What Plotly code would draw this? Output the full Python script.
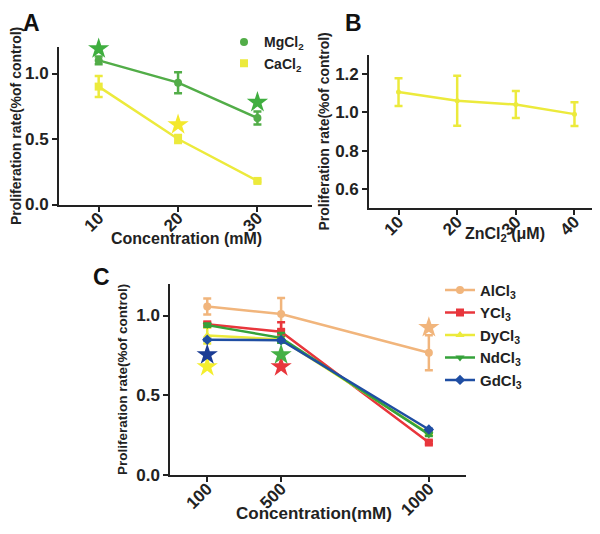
import plotly.graph_objects as go

# ---- panel A data ----
conc_a = [10, 20, 30]
mg_mean = [1.10, 0.93, 0.66]
mg_err = [0.03, 0.08, 0.05]
ca_mean = [0.90, 0.50, 0.18]
ca_err = [0.08, 0.03, 0.01]
mg_star_x = [10, 30]
mg_star_y = [1.19, 0.78]
ca_star_x = [20]
ca_star_y = [0.61]

# ---- panel B data ----
conc_b = [10, 20, 30, 40]
zn_mean = [1.105, 1.06, 1.04, 0.99]
zn_err = [0.072, 0.13, 0.07, 0.062]

# ---- panel C data ----
conc_c_pos = [1, 2, 4]
conc_c_labels = ["100", "500", "1000"]
al_mean = [1.057, 1.01, 0.767]
al_err = [0.05, 0.10, 0.11]
y_mean = [0.945, 0.898, 0.204]
y_err = [0.01, 0.06, 0.01]
dy_mean = [0.875, 0.85, 0.26]
dy_err = [0.05, 0.01, 0.01]
nd_mean = [0.94, 0.86, 0.255]
nd_err = [0.01, 0.03, 0.01]
gd_mean = [0.848, 0.845, 0.286]
gd_err = [0.005, 0.005, 0.005]
star_c = {
    "al": ([4], [0.925]),
    "y": ([2], [0.68]),
    "dy": ([1], [0.68]),
    "nd": ([2], [0.755]),
    "gd": ([1], [0.755]),
}

GREEN = "#52ad48"
YELLOW = "#ecea3c"
TAN = "#f1b57c"
RED = "#e8363c"
DGREEN = "#35a23a"
BLUE = "#1f4ea3"
FONT = "Liberation Sans, Arial, sans-serif"

fig = go.Figure()


def series(x, y, err, color, symbol, name, xa, ya, legend=None, msize=8):
    fig.add_trace(go.Scatter(
        x=x, y=y, mode="lines+markers", name=name, cliponaxis=False,
        line=dict(color=color, width=2.5),
        marker=dict(color=color, symbol=symbol, size=msize),
        error_y=dict(type="data", array=err, color=color, thickness=2.5, width=4),
        xaxis=xa, yaxis=ya, showlegend=legend is not None,
        legend=legend or "legend",
    ))


def stars(x, y, color, xa, ya):
    fig.add_trace(go.Scatter(
        x=x, y=y, mode="markers", showlegend=False, cliponaxis=False,
        marker=dict(color=color, symbol="star", size=16, line=dict(width=0)),
        xaxis=xa, yaxis=ya,
    ))


def key_only(color, symbol, name):
    # legend entry with marker only (graphpad style)
    fig.add_trace(go.Scatter(
        x=[None], y=[None], mode="markers", name=name,
        marker=dict(color=color, symbol=symbol, size=8), legend="legend",
    ))


# A
series(conc_a, mg_mean, mg_err, GREEN, "circle", "MgCl<sub>2</sub>", "x", "y")
series(conc_a, ca_mean, ca_err, YELLOW, "square", "CaCl<sub>2</sub>", "x", "y")
stars(mg_star_x, mg_star_y, "#3fae3f", "x", "y")
stars(ca_star_x, ca_star_y, "#f4e82c", "x", "y")
key_only(GREEN, "circle", "MgCl<sub>2</sub>")
key_only(YELLOW, "square", "CaCl<sub>2</sub>")

# B
series(conc_b, zn_mean, zn_err, YELLOW, "circle", "ZnCl2", "x2", "y2", msize=5)

# C
series(conc_c_pos, al_mean, al_err, TAN, "circle", "AlCl<sub>3</sub>", "x3", "y3", "legend2")
series(conc_c_pos, y_mean, y_err, RED, "square", "YCl<sub>3</sub>", "x3", "y3", "legend2")
series(conc_c_pos, dy_mean, dy_err, YELLOW, "triangle-up", "DyCl<sub>3</sub>", "x3", "y3", "legend2")
series(conc_c_pos, nd_mean, nd_err, DGREEN, "triangle-down", "NdCl<sub>3</sub>", "x3", "y3", "legend2")
series(conc_c_pos, gd_mean, gd_err, BLUE, "diamond", "GdCl<sub>3</sub>", "x3", "y3", "legend2")
stars(*star_c["al"], TAN, "x3", "y3")
stars(*star_c["y"], RED, "x3", "y3")
stars(*star_c["dy"], "#f4ee2c", "x3", "y3")
stars(*star_c["nd"], "#45b045", "x3", "y3")
stars(*star_c["gd"], "#1b3c94", "x3", "y3")

tickf = dict(family=FONT, size=17, color="#222", weight="bold")
titlef = dict(family=FONT, size=14, color="#222", weight="bold")
ax = dict(showline=True, linecolor="#222", linewidth=2, showgrid=False, zeroline=False,
          ticks="outside", ticklen=5, tickwidth=2, tickcolor="#222", tickfont=tickf)
xax = dict(ax, tickangle=-45, ticklabelstandoff=-10)

fig.update_layout(
    width=600, height=534, margin=dict(l=0, r=0, t=0, b=0),
    paper_bgcolor="white", plot_bgcolor="white",
    font=dict(family=FONT, color="#222"),
    xaxis=dict(xax, domain=[0.085, 0.507], range=[5, 36.9], tickvals=conc_a, anchor="y"),
    yaxis=dict(ax, domain=[0.625, 0.925], range=[0, 1.2], tickvals=[0, 0.5, 1.0],
               tickformat=".1f", anchor="x",
               title=dict(text="Proliferation rate(%of control)", font=titlef, standoff=6)),
    xaxis2=dict(xax, domain=[0.602, 0.993], range=[5, 45], tickvals=conc_b, anchor="y2"),
    yaxis2=dict(ax, domain=[0.618, 0.911], range=[0.5, 1.3], tickvals=[0.6, 0.8, 1.0, 1.2],
                tickformat=".1f", anchor="x2",
                title=dict(text="Proliferation rate(%of control)", font=titlef, standoff=2)),
    xaxis3=dict(xax, domain=[0.2705, 0.763], range=[0.5, 4.5], tickvals=conc_c_pos,
                ticktext=conc_c_labels, anchor="y3"),
    yaxis3=dict(ax, domain=[0.1086, 0.474], range=[0, 1.2], tickvals=[0, 0.5, 1.0],
                tickformat=".1f", anchor="x3",
                title=dict(text="Proliferation rate(%of control)", font=dict(titlef, size=13.5), standoff=6)),
    legend=dict(x=0.36, y=0.965, xanchor="left", yanchor="top", bgcolor="rgba(0,0,0,0)",
                font=dict(family=FONT, size=14, color="#222", weight="bold"),
                tracegroupgap=0, itemwidth=30),
    legend2=dict(x=0.72, y=0.493, xanchor="left", yanchor="top", bgcolor="rgba(0,0,0,0)",
                 font=dict(family=FONT, size=15, color="#222", weight="bold"),
                 tracegroupgap=0, itemwidth=30),
    annotations=[
        dict(text="<b>A</b>", x=0.022, y=1.0, xref="paper", yref="paper", xanchor="left",
             yanchor="top", showarrow=False, font=dict(family=FONT, size=23, color="#111")),
        dict(text="<b>B</b>", x=0.558, y=1.0, xref="paper", yref="paper", xanchor="left",
             yanchor="top", showarrow=False, font=dict(family=FONT, size=23, color="#111")),
        dict(text="<b>C</b>", x=0.138, y=0.515, xref="paper", yref="paper", xanchor="left",
             yanchor="top", showarrow=False, font=dict(family=FONT, size=23, color="#111")),
        # x-axis titles (sit close to the rotated tick labels, as in the original)
        dict(text="<b>Concentration (mM)</b>", x=0.2975, y=0.56, xref="paper", yref="paper",
             xanchor="center", yanchor="middle", showarrow=False,
             font=dict(family=FONT, size=16, color="#222")),
        dict(text="<b>ZnCl<sub>2</sub> (μM)</b>", x=0.828, y=0.567, xref="paper", yref="paper",
             xanchor="center", yanchor="middle", showarrow=False,
             font=dict(family=FONT, size=16, color="#222")),
        dict(text="<b>Concentration(mM)</b>", x=0.51, y=0.036, xref="paper", yref="paper",
             xanchor="center", yanchor="middle", showarrow=False,
             font=dict(family=FONT, size=17, color="#222")),
    ],
)

fig.write_html("out.html")
